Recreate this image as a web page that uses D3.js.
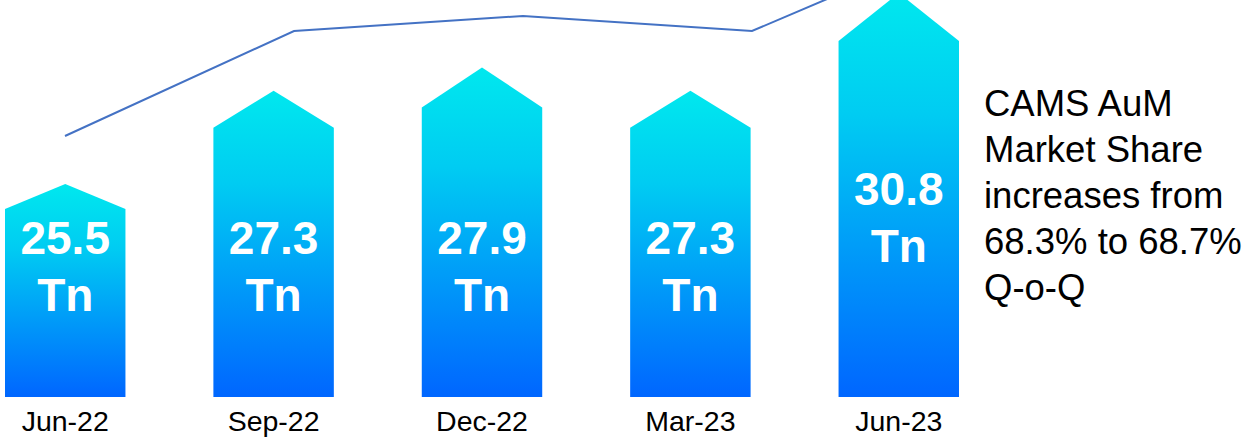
<!DOCTYPE html>
<html>
<head>
<meta charset="utf-8">
<script src="https://cdn.jsdelivr.net/npm/d3@7"></script>
<style>
  html, body { margin: 0; padding: 0; background: #fff; }
  svg { display: block; font-family: "Liberation Sans", Arial, sans-serif; }
</style>
</head>
<body>
<svg id="chart" width="1256" height="440"></svg>
<script>
/* data */
const quarters = ["Jun-22", "Sep-22", "Dec-22", "Mar-23", "Jun-23"];
const aum = [25.5, 27.3, 27.9, 27.3, 30.8];           // Tn
const shareLine = [67.6, 68.3, 68.4, 68.3, 68.95];    // market share trend (%)
const noteLines = ["CAMS AuM", "Market Share", "increases from", "68.3% to 68.7%", "Q-o-Q"];

/* arrow-head heights, per bar (style only) */
const headH = [25, 37, 40, 37, 48];

const W = 1256, H = 440, baseY = 397;
const svg = d3.select("#chart");

/* scales */
const x = d3.scaleBand().domain(quarters).range([5, 959]).paddingInner(0.422).paddingOuter(0);
// infographic bars are not to linear scale -> strongly concave pow scale fits them
const y = d3.scalePow().exponent(-5.5).domain([25.5, 30.8]).range([209, 41]);
const xl = d3.scalePoint().domain(quarters).range([65, 981]);
const yl = d3.scaleLinear().domain([68.3, 68.4]).range([31, 16]);

/* gradient */
const grad = svg.append("defs").append("linearGradient")
  .attr("id", "barGrad").attr("x1", 0).attr("y1", 0).attr("x2", 0).attr("y2", 1);
grad.append("stop").attr("offset", "0%").attr("stop-color", "#00E8EE");
grad.append("stop").attr("offset", "30%").attr("stop-color", "#00CCF2");
grad.append("stop").attr("offset", "100%").attr("stop-color", "#0066FF");

function arrowPath(x0, w, top, head, bottom) {
  const p = d3.path();
  p.moveTo(x0, bottom);
  p.lineTo(x0, top);
  p.lineTo(x0 + w / 2, top - head);
  p.lineTo(x0 + w, top);
  p.lineTo(x0 + w, bottom);
  p.closePath();
  return p.toString();
}

/* bars */
const rows = quarters.map((q, i) => ({ q, v: aum[i], head: headH[i] }));

const g = svg.append("g").attr("class", "bars");
g.selectAll("path.bar")
  .data(rows)
  .join("path")
  .attr("class", "bar")
  .attr("fill", "url(#barGrad)")
  .attr("d", d => arrowPath(x(d.q), x.bandwidth(), y(d.v), d.head, baseY));

/* value labels */
const lab = g.selectAll("text.val")
  .data(rows)
  .join("text")
  .attr("class", "val")
  .attr("text-anchor", "middle")
  .attr("fill", "#fff")
  .attr("font-weight", "bold")
  .attr("font-size", 46)
  .attr("transform", d => {
    const ly = Math.min(y(d.v) + 164, 254);
    return `translate(${x(d.q) + x.bandwidth() / 2},${ly})`;
  });
lab.append("tspan").attr("x", 0).attr("y", 0).text(d => d.v.toFixed(1));
lab.append("tspan").attr("x", 0).attr("y", 57).text("Tn");

/* category labels */
svg.append("g").selectAll("text")
  .data(quarters)
  .join("text")
  .attr("x", d => x(d) + x.bandwidth() / 2)
  .attr("y", 431)
  .attr("text-anchor", "middle")
  .attr("font-size", 28.5)
  .attr("fill", "#000")
  .text(d => d);

/* share trend line */
const line = d3.line().x((d, i) => xl(quarters[i])).y(d => yl(d));
svg.append("path")
  .datum(shareLine)
  .attr("fill", "none")
  .attr("stroke", "#4472C4")
  .attr("stroke-width", 2)
  .attr("d", line);

/* note text */
svg.append("text")
  .attr("font-size", 36.5)
  .attr("fill", "#000")
  .selectAll("tspan")
  .data(noteLines)
  .join("tspan")
  .attr("x", 984)
  .attr("y", (d, i) => 116 + i * 46)
  .text(d => d);
</script>
</body>
</html>
